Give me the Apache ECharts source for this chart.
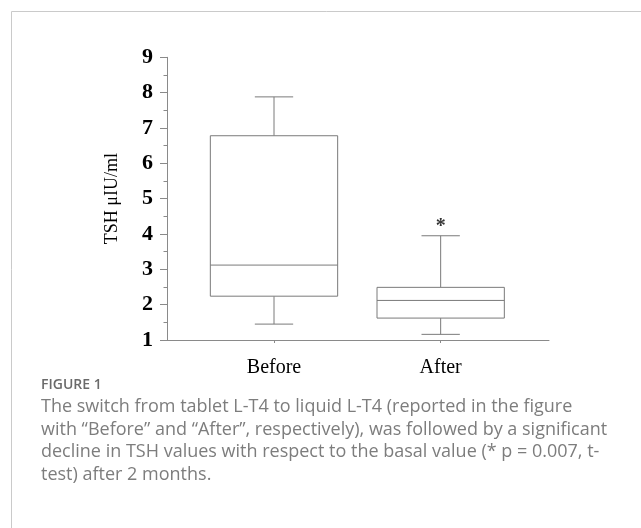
<!DOCTYPE html>
<html><head><meta charset="utf-8">
<script src="https://cdn.jsdelivr.net/npm/echarts@6/dist/echarts.min.js"></script>
<style>html,body{margin:0;padding:0;background:#fff}#c{width:641px;height:528px}</style>
</head><body><div id="c"></div>
<script>
// ---- data ----
const categories = ['Before', 'After'];
const mins = [1.45, 1.16];
const q1s = [2.24, 1.62];
const medians = [3.12, 2.12];
const q3s = [6.78, 2.49];
const maxs = [7.88, 3.95];
const yTickValues = [1, 2, 3, 4, 5, 6, 7, 8, 9];
const starPoint = [2, 4.2];   // asterisk above "After"
const starText = '*';
const yAxisName = 'TSH μIU/ml';
const figureLabel = 'FIGURE 1';
const captionLines = [
  'The switch from tablet L-T4 to liquid L-T4 (reported in the figure',
  'with “Before” and “After”, respectively), was followed by a significant',
  'decline in TSH values with respect to the basal value (* p = 0.007, t-',
  'test) after 2 months.'
];

const positions = categories.map((c, i) => i + 1);
const boxData = categories.map((c, i) => [positions[i], mins[i], q1s[i], medians[i], q3s[i], maxs[i]]);

const chart = echarts.init(document.getElementById('c'), null, { renderer: 'canvas' });
const axisGrey = '#8a8a8a';
const boxGrey = '#7a7a7a';
const serif = '"Liberation Serif", "Times New Roman", serif';
const capColor = '#7d7d7d';

const graphics = [
  { type: 'line', shape: { x1: 11.5, y1: 11.5, x2: 641, y2: 11.5 }, style: { stroke: '#cacaca', lineWidth: 1 }, silent: true },
  { type: 'line', shape: { x1: 11.5, y1: 11.5, x2: 11.5, y2: 528 }, style: { stroke: '#cacaca', lineWidth: 1 }, silent: true },
  { type: 'text', x: 41, y: 385, style: { text: figureLabel, font: '600 14px "Open Sans", sans-serif', fill: '#6a6a6a', verticalAlign: 'middle' }, silent: true }
];
captionLines.forEach((t, i) => {
  graphics.push({ type: 'text', x: 41, y: 407 + i * 22.5, style: { text: t, font: '18px "Open Sans", sans-serif', fill: capColor, verticalAlign: 'middle' }, silent: true });
});

chart.setOption({
  animation: false,
  backgroundColor: '#fff',
  grid: { left: 167, right: 92, top: 57.3, bottom: 188 },
  xAxis: {
    type: 'value', min: 0.358, max: 2.65,
    splitLine: { show: false },
    axisLine: { lineStyle: { color: axisGrey, width: 1 } },
    axisTick: { customValues: positions, length: 3, lineStyle: { color: axisGrey } },
    axisLabel: {
      customValues: positions, margin: 18,
      formatter: v => categories[Math.round(v) - 1] || '',
      fontFamily: serif, fontSize: 20, color: '#000'
    }
  },
  yAxis: {
    type: 'value', min: yTickValues[0], max: yTickValues[yTickValues.length - 1], interval: 1,
    name: yAxisName, nameLocation: 'middle', nameGap: 46,
    nameTextStyle: { fontFamily: serif, fontSize: 18, color: '#000' },
    splitLine: { show: false },
    axisLine: { show: true, lineStyle: { color: axisGrey, width: 1 } },
    axisTick: { show: true, length: 7, lineStyle: { color: axisGrey } },
    minorTick: { show: true, splitNumber: 2, length: 3.5, lineStyle: { color: axisGrey } },
    axisLabel: { margin: 14, fontFamily: serif, fontSize: 22, fontWeight: 'bold', color: '#000' }
  },
  series: [
    {
      type: 'custom',
      data: boxData,
      encode: { x: 0, y: [1, 2, 3, 4, 5] },
      renderItem: function (params, api) {
        const x = api.value(0);
        const vMin = api.value(1), vQ1 = api.value(2), vMed = api.value(3), vQ3 = api.value(4), vMax = api.value(5);
        const hb = 0.382, hc = 0.115;
        const c = (dx, v) => api.coord([x + dx, v]);
        const st = { stroke: boxGrey, lineWidth: 1, fill: null };
        const line = (a, b) => ({ type: 'line', shape: { x1: a[0], y1: a[1], x2: b[0], y2: b[1] }, style: st });
        const tl = c(-hb, vQ3), br = c(hb, vQ1);
        return {
          type: 'group',
          children: [
            line(c(0, vQ3), c(0, vMax)),
            line(c(-hc, vMax), c(hc, vMax)),
            line(c(0, vQ1), c(0, vMin)),
            line(c(-hc, vMin), c(hc, vMin)),
            { type: 'rect', shape: { x: tl[0], y: tl[1], width: br[0] - tl[0], height: br[1] - tl[1] }, style: { stroke: boxGrey, lineWidth: 1, fill: '#fff' } },
            line(c(-hb, vMed), c(hb, vMed))
          ]
        };
      },
      silent: true
    },
    {
      type: 'scatter',
      data: [starPoint],
      symbolSize: 0,
      label: { show: true, position: 'inside', formatter: starText, fontFamily: serif, fontSize: 20, fontWeight: 'bold', color: '#000' },
      silent: true
    }
  ],
  graphic: graphics
});
</script>
</body></html>
